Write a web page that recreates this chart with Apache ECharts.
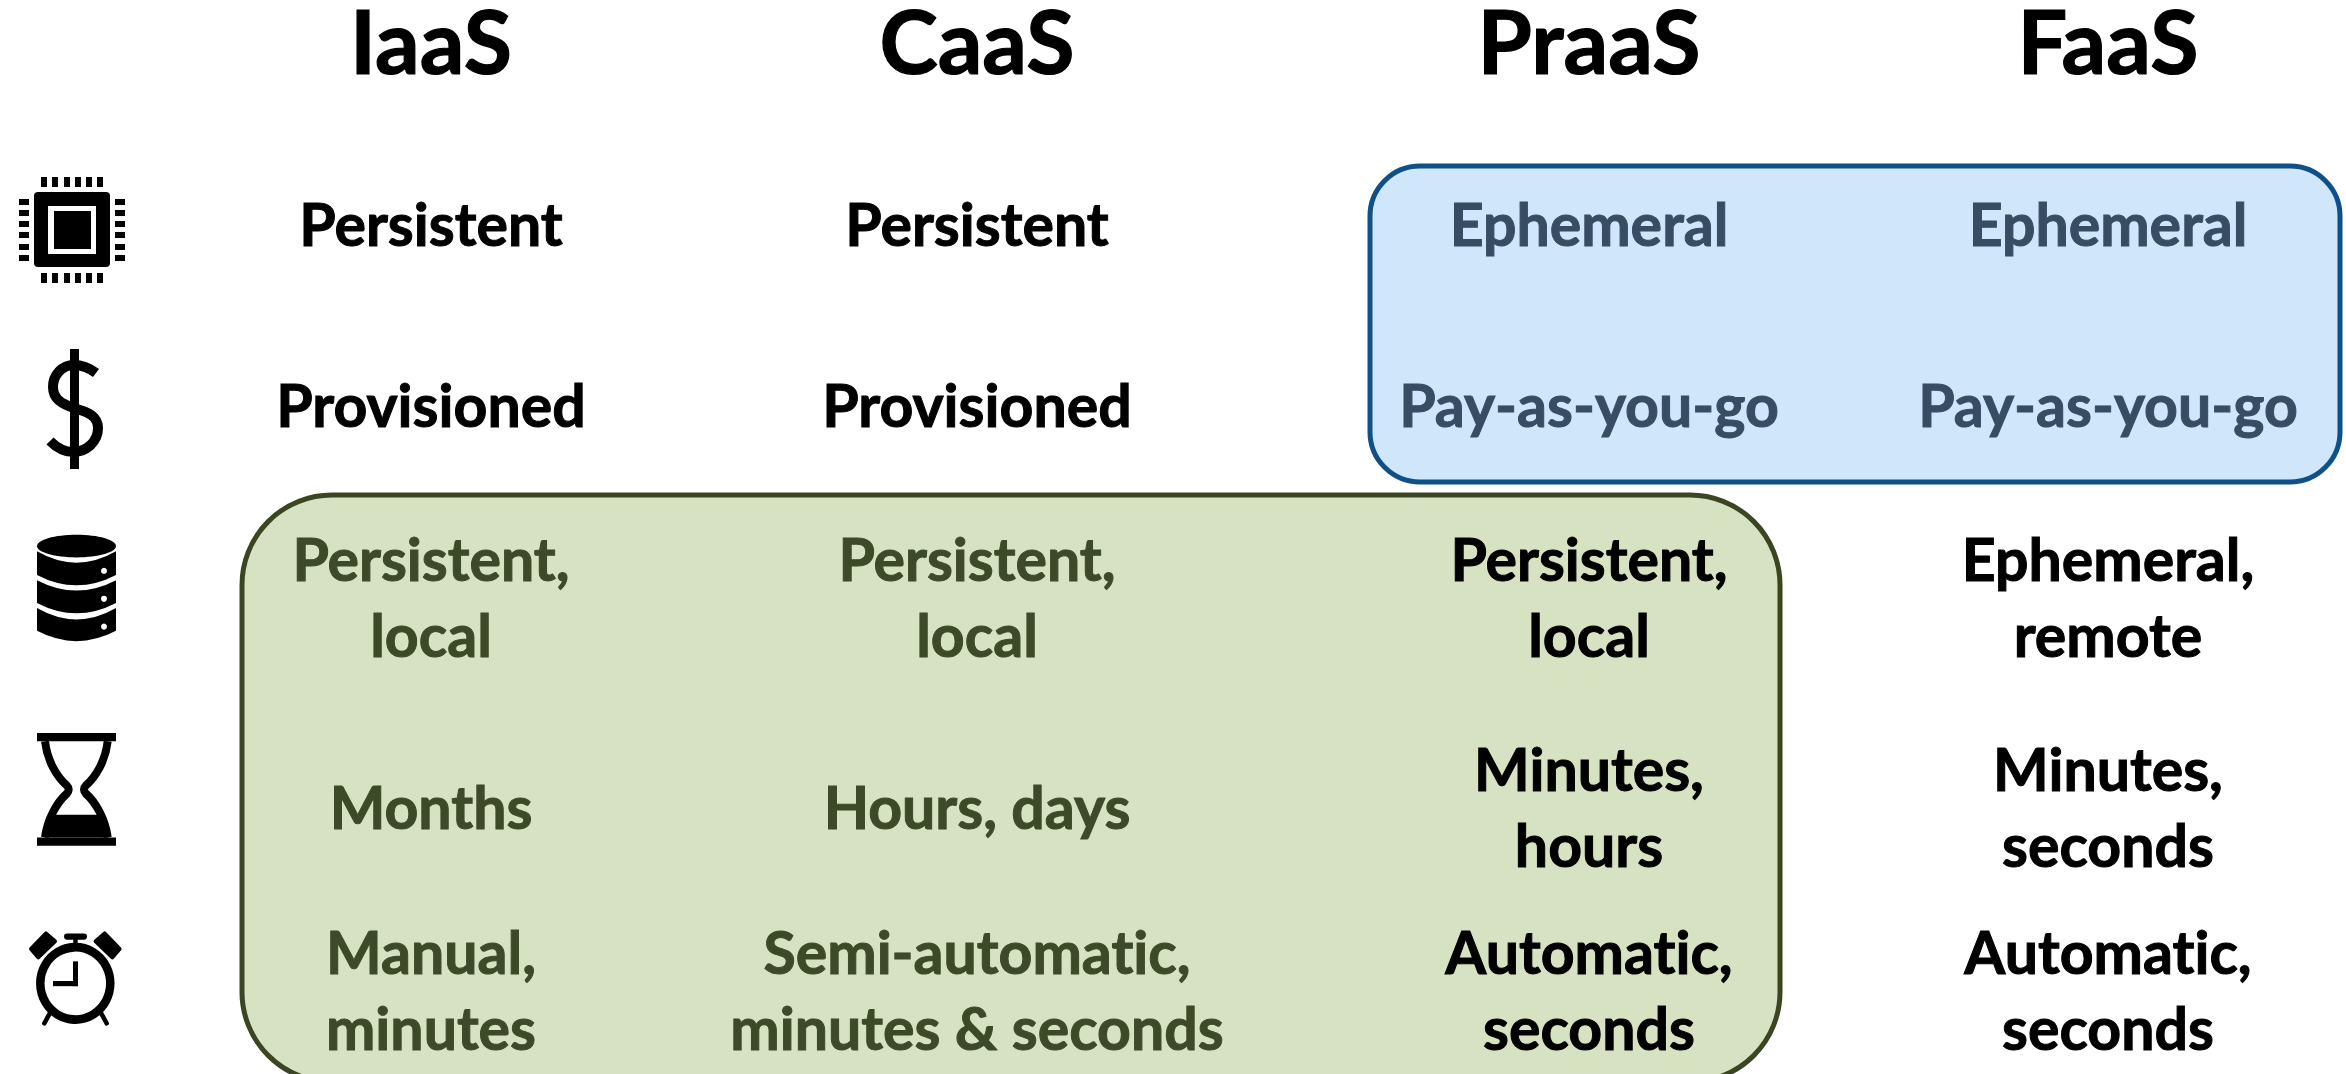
<!DOCTYPE html>
<html>
<head>
<meta charset="utf-8">
<style>html,body{margin:0;padding:0;background:#fff}#c{width:2346px;height:1074px}
#c text{font-variant-ligatures:none !important}</style>
<script src="https://cdn.jsdelivr.net/npm/echarts@6/dist/echarts.min.js"></script>
</head>
<body>
<div id="c"></div>
<script>
// ---- table content ----
const columns = ['IaaS', 'CaaS', 'PraaS', 'FaaS'];
const rowCpu = ['Persistent', 'Persistent', 'Ephemeral', 'Ephemeral'];
const rowBilling = ['Provisioned', 'Provisioned', 'Pay-as-you-go', 'Pay-as-you-go'];
const rowStorage = ['Persistent,\nlocal', 'Persistent,\nlocal', 'Persistent,\nlocal', 'Ephemeral,\nremote'];
const rowLifetime = ['Months', 'Hours, days', 'Minutes,\nhours', 'Minutes,\nseconds'];
const rowScaling = ['Manual,\nminutes', 'Semi-automatic,\nminutes & seconds', 'Automatic,\nseconds', 'Automatic,\nseconds'];
const rows = [rowCpu, rowBilling, rowStorage, rowLifetime, rowScaling];

// ---- layout (px, axes are 1:1 with the page) ----
const W = 2346, H = 1074;
const colX = [431, 977, 1589, 2108];
const rowY = [223, 404, 596, 806, 989];
const headerY = 40;
const FONT = 'Lato, "Open Sans", sans-serif';
const BLACK = '#000000', GREEN_TEXT = '#3D4A28', BLUE_TEXT = '#384D64';

function cellColor(r, c) {
  if (r < 2 && c >= 2) return BLUE_TEXT;
  if (r >= 2 && c < 2) return GREEN_TEXT;
  return BLACK;
}

const cellData = [];
rows.forEach((row, r) => row.forEach((t, c) => {
  cellData.push({ value: [colX[c], rowY[r]], text: t, color: cellColor(r, c) });
}));
const headerData = columns.map((t, c) => ({ value: [colX[c], headerY], text: t }));

const boxes = [
  { x0: 1370, y0: 166, x1: 2340, y1: 482, r: 50, fill: '#D0E6FB', stroke: '#0F5088' },
  { x0: 242, y0: 495, x1: 1780, y1: 1082, r: 90, fill: '#D7E2C3', stroke: '#3B4521' }
];

// ---- icons ----
function chip() {
  const k = [];
  const R = (x, y, w, h, r) => k.push({ type: 'rect', shape: { x, y, width: w, height: h, r: r || 0 }, style: { fill: '#000' } });
  [41, 52, 64, 75, 86, 97].forEach(x => { R(x, 177, 6, 10); R(x, 273, 6, 10); });
  [199, 210, 221, 232, 244, 255].forEach(y => { R(19, y, 10, 6); R(115, y, 10, 6); });
  R(34, 192, 76, 75, 4);
  k.push({ type: 'rect', shape: { x: 48, y: 206, width: 48, height: 48 }, style: { fill: '#fff' } });
  R(54, 211, 37, 38);
  return k;
}
function dollar() {
  return [
    { type: 'rect', shape: { x: 70, y: 349, width: 9, height: 120 }, style: { fill: '#000' } },
    { type: 'path', shape: { pathData: 'M96 373C88 367 80 365 74 365C62 365 53 375 53 387C53 399 62 404 74 408C88 412 98 416 98 428C98 442 86 452 73 452C65 452 57 448 50 441' },
      style: { fill: 'none', stroke: '#000', lineWidth: 10 } }
  ];
}
function stretched(children) {
  return [{ type: 'group', scaleY: 1.0331, originY: 510, children }];
}
function database() {
  const k = [{ type: 'ellipse', shape: { cx: 76.5, cy: 545, rx: 39.5, ry: 11 }, style: { fill: '#000' } }];
  [[550, 561, 573, 583], [578, 588, 600, 610], [605, 616, 627, 637]].forEach(a => {
    const [st, ct, sb, cb] = a;
    k.push({ type: 'path', shape: { pathData: `M37 ${st}Q76.5 ${2 * ct - st} 116 ${st}L116 ${sb}Q76.5 ${2 * cb - sb} 37 ${sb}Z` }, style: { fill: '#000' } });
    k.push({ type: 'circle', shape: { cx: 104, cy: sb - 4, r: 3 }, style: { fill: '#fff' } });
  });
  return stretched(k);
}
function hourglass() {
  const wall = 'M45 734C47.3 753 56.7 768 66.7 776.7Q70.7 780.7 66.7 784.7C56.7 793 47.3 810 45 827';
  const wallR = 'M107.7 734C105.4 753 96 768 86 776.7Q82 780.7 86 784.7C96 793 105.4 810 107.7 827';
  const S = { fill: 'none', stroke: '#000', lineWidth: 8 };
  return stretched([
    { type: 'rect', shape: { x: 37, y: 726, width: 79, height: 8 }, style: { fill: '#000' } },
    { type: 'rect', shape: { x: 37, y: 827, width: 79, height: 8 }, style: { fill: '#000' } },
    { type: 'path', shape: { pathData: wall }, style: S },
    { type: 'path', shape: { pathData: wallR }, style: S },
    { type: 'path', shape: { pathData: 'M55.7 805L97.3 805C102 812 107 820 108 827L45 827C46 820 51 812 55.7 805Z' }, style: { fill: '#000' } }
  ]);
}
function alarm() {
  const L = (x1, y1, x2, y2) => ({ type: 'line', shape: { x1, y1, x2, y2 }, style: { stroke: '#000', lineWidth: 4.5, lineCap: 'round' } });
  const bell = pts => ({ type: 'polygon', shape: { points: pts }, style: { fill: '#000', stroke: '#000', lineWidth: 4, lineJoin: 'round' } });
  return stretched([
    { type: 'circle', shape: { cx: 75.3, cy: 968.3, r: 35 }, style: { fill: 'none', stroke: '#000', lineWidth: 8.5 } },
    { type: 'rect', shape: { x: 73, y: 947, width: 5, height: 24 }, style: { fill: '#000' } },
    { type: 'rect', shape: { x: 53, y: 966, width: 25, height: 5 }, style: { fill: '#000' } },
    { type: 'rect', shape: { x: 73.3, y: 925, width: 4.4, height: 8 }, style: { fill: '#000' } },
    { type: 'rect', shape: { x: 64, y: 920, width: 23, height: 6, r: 3 }, style: { fill: '#000' } },
    bell([[46, 920], [55, 927.5], [38.3, 943], [31, 935]]),
    bell([[104.6, 920], [95.6, 927.5], [112.3, 943], [119.6, 935]]),
    L(50, 997, 44.3, 1007), L(101, 997, 106.7, 1007)
  ]);
}
const icons = [chip, dollar, database, hourglass, alarm];

// ---- chart ----
const chart = echarts.init(document.getElementById('c'), null, { renderer: 'svg' });
chart.setOption({
  animation: false,
  backgroundColor: '#ffffff',
  tooltip: { show: false },
  grid: { left: 0, right: 0, top: 0, bottom: 0 },
  xAxis: { type: 'value', min: 0, max: W, show: false },
  yAxis: { type: 'value', min: 0, max: H, inverse: true, show: false },
  series: [
    {
      type: 'custom', name: 'boxes', silent: true, clip: true, z: 1,
      data: boxes.map(b => [b.x0, b.y0, b.x1, b.y1]),
      renderItem(p, api) {
        const a = api.coord([api.value(0), api.value(1)]), z = api.coord([api.value(2), api.value(3)]);
        const b = boxes[p.dataIndex];
        return { type: 'rect', shape: { x: a[0], y: a[1], width: z[0] - a[0], height: z[1] - a[1], r: b.r },
          style: { fill: b.fill, stroke: b.stroke, lineWidth: 5 } };
      }
    },
    {
      type: 'custom', name: 'icons', silent: true, z: 2,
      data: icons.map((f, i) => [0, i]),
      renderItem(p, api) {
        const o = api.coord([0, 0]);
        return { type: 'group', x: o[0], y: o[1], children: icons[p.dataIndex]() };
      }
    },
    {
      type: 'custom', name: 'headers', silent: true, z: 3,
      data: headerData,
      renderItem(p, api) {
        const c = api.coord([api.value(0), api.value(1)]);
        return { type: 'text', x: c[0], y: c[1], style: { text: headerData[p.dataIndex].text,
          font: 'bold 88px ' + FONT, fill: '#000', stroke: '#000', lineWidth: 1.2, align: 'center', verticalAlign: 'middle', lineHeight: 70 } };
      }
    },
    {
      type: 'custom', name: 'cells', silent: true, z: 3,
      data: cellData,
      renderItem(p, api) {
        const c = api.coord([api.value(0), api.value(1)]);
        const d = cellData[p.dataIndex];
        return { type: 'text', x: c[0], y: c[1], style: { text: d.text,
          font: 'bold 59px ' + FONT, fill: d.color, stroke: d.color, lineWidth: 1, align: 'center', verticalAlign: 'middle', lineHeight: 76 } };
      }
    }
  ]
});
</script>
</body>
</html>
